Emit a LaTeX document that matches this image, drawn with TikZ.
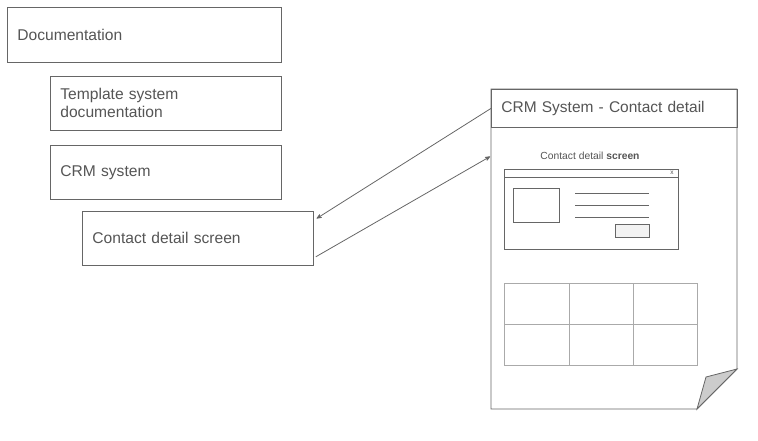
\documentclass[tikz,border=0pt]{standalone}
\usepackage{fontspec}
\setmainfont{Liberation Sans}
\usetikzlibrary{arrows}
\usetikzlibrary{positioning}

\definecolor{linegray}{HTML}{666666}
\definecolor{textgray}{HTML}{555555}
\definecolor{gridgray}{HTML}{AAAAAA}
\definecolor{foldgray}{HTML}{CCCCCC}
\definecolor{buttongray}{HTML}{F2F2F2}

\begin{document}
\begin{tikzpicture}[x=1pt,y=-1pt,>=stealth',line width=0.8pt,
		box node/.style={rectangle,draw=linegray,anchor=north west,align=left,
			inner xsep=10pt,minimum height=54pt,text width=211pt,
			text=textgray,font=\fontsize{15.6}{18}\selectfont},
		head node/.style={rectangle,draw=linegray,anchor=north west,align=left,
			inner xsep=10pt,minimum height=38pt,text width=226pt,
			text=textgray,font=\fontsize{15.5}{19}\selectfont},
		wire/.style={->,draw=linegray,shorten >=1pt}]

	\useasboundingbox (0,0) rectangle (758,440);

	% left column
	\node[box node,minimum height=55pt,text width=254pt] (Doc) at (7,7) {Documentation};
	\node[box node] (TSD) at (50,76) {Template system\\documentation};
	\node[box node] (CRM) at (50,145) {CRM system};
	\node[box node] (CDS) at (82,211) {Contact detail screen};

	% page with folded corner
	\draw[linegray,fill=white] (491,89) -- (737,89) -- (737,369) -- (697,409) -- (491,409) -- cycle;
	\draw[linegray,fill=foldgray] (737,369) -- (706,377) -- (697,409) -- cycle;
	\node[head node] (Head) at (491,89) {CRM System - Contact detail};
	\coordinate (PageIn) at (491,156);

	\node[text=textgray,font=\fontsize{10.3}{12}\selectfont] (Caption) at (590,156)
		{Contact detail \textbf{screen}};

	% window mockup
	\draw[linegray] (504,169) rectangle (678,249);
	\draw[linegray] (504,177) -- (678,177);
	\node[text=textgray,font=\fontsize{6.5}{7}\selectfont,inner sep=0pt] (Close) at (672,173) {x};
	\draw[linegray] (513,188) rectangle (559,222);
	\foreach \y in {193,205,217}
		\draw[linegray] (575,\y) -- (649,\y);
	\draw[linegray,fill=buttongray] (615,224) rectangle (649,237);

	% table
	\draw[gridgray] (504,283) rectangle (697,365);
	\draw[gridgray] (504,324) -- (697,324);
	\foreach \x in {569,633}
		\draw[gridgray] (\x,283) -- (\x,365);

	% links
	\draw[wire] (Head.west) -- ([shift={(2pt,-8pt)}]CDS.north east);
	\draw[wire] ([shift={(2pt,9pt)}]CDS.south east) -- (PageIn);

\end{tikzpicture}
\end{document}
